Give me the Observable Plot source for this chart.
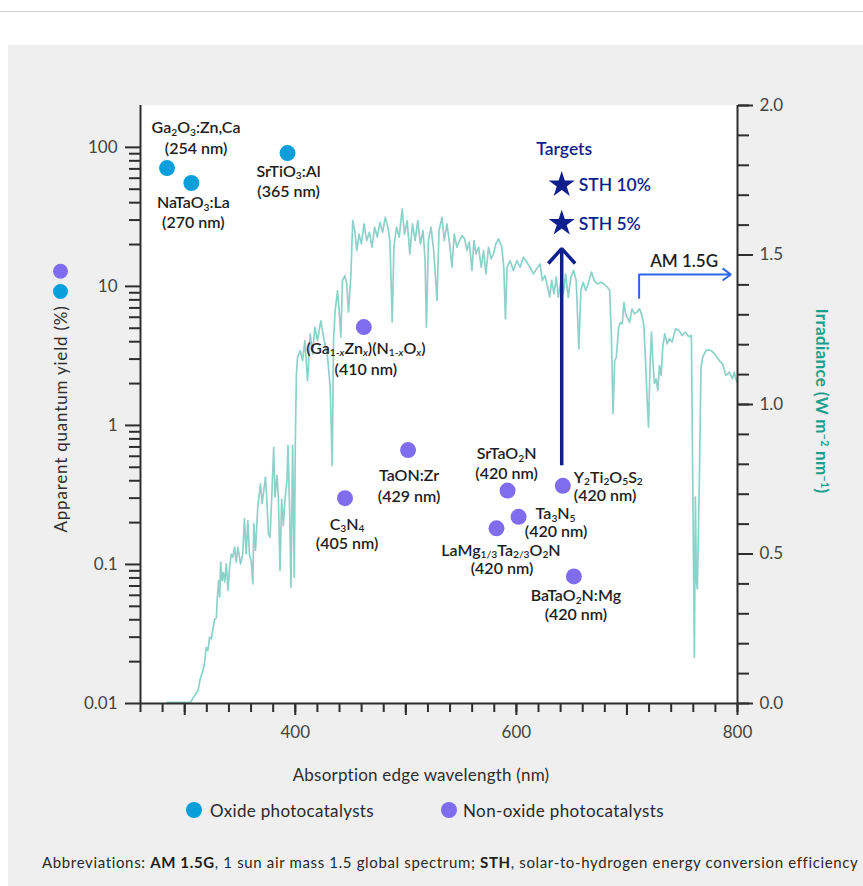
<!DOCTYPE html>
<html>
<head>
<meta charset="utf-8">
<script src="https://cdn.jsdelivr.net/npm/d3@7"></script>
<script src="https://cdn.jsdelivr.net/npm/@observablehq/plot@0.6"></script>
<style>
html,body{margin:0;padding:0;background:#fff;}
body{width:863px;height:886px;position:relative;overflow:hidden;font-family:Lato,"Open Sans",sans-serif;}
#rule{position:absolute;left:0;top:11px;width:863px;height:1px;background:#cfcfcf;}
#panel{position:absolute;left:8px;top:45px;width:855px;height:841px;background:#efefef;}
.layer{position:absolute;left:0;top:0;}
.layer svg{display:block;}
.t{position:absolute;white-space:nowrap;line-height:1;}
.t sup{font-size:0.62em;vertical-align:0.55em;line-height:0;}
.sw{position:absolute;width:16px;height:16px;border-radius:50%;}
#footer b{font-weight:700;color:#1e1e1e;}
</style>
</head>
<body>
<div id="rule"></div>
<div id="panel"></div>
<div id="irrLayer" class="layer"></div>
<div id="aqyLayer" class="layer"></div>
<div id="ytitle" class="t" style="font-size:17px;font-weight:400;color:#2e2e2e;">Apparent quantum yield (%)</div>
<div id="y2title" class="t" style="font-size:17px;font-weight:700;color:#19a08c;">Irradiance (W m<sup>−2</sup> nm<sup>−1</sup>)</div>
<div id="xtitle" class="t" style="font-size:17px;font-weight:400;color:#2e2e2e;">Absorption edge wavelength (nm)</div>
<div id="sw1" class="sw"></div>
<div id="leg1" class="t" style="font-size:17px;font-weight:400;color:#2a2a2a;"></div>
<div id="sw2" class="sw"></div>
<div id="leg2" class="t" style="font-size:17px;font-weight:400;color:#2a2a2a;"></div>
<div id="footer" class="t" style="font-size:15px;font-weight:400;color:#2a2a2a;">Abbreviations: <b>AM 1.5G</b>, 1 sun air mass 1.5 global spectrum; <b>STH</b>, solar-to-hydrogen energy conversion efficiency</div>
<script>
// ---------------- DATA ----------------
// AM 1.5G solar irradiance spectrum: [wavelength nm, irradiance W m-2 nm-1]
const amSpectrum = [
[284,0.004],[290,0.004],[296,0.004],[302,0.004],[305.4,0.005],
[309.0,0.027],[312.0,0.043],[314.1,0.083],[316.5,0.110],[318.0,0.138],[319.5,0.188],[321.0,0.177],[322.5,0.222],
[324.1,0.216],[325.6,0.250],[327.1,0.283],[328.6,0.286],[329.5,0.356],[330.7,0.411],[331.6,0.356],[332.5,0.473],
[333.7,0.411],[334.9,0.439],[336.1,0.406],[337.6,0.467],[339.1,0.378],[340.6,0.456],[342.1,0.500],[343.6,0.489],
[345.1,0.523],[346.6,0.473],[348.1,0.523],[350.5,0.467],[352.5,0.500],[354.0,0.618],[355.6,0.500],[357.1,0.612],
[358.6,0.495],[360.1,0.478],[361.6,0.400],[362.5,0.601],[364.0,0.512],[366.1,0.657],[368.5,0.735],[370.0,0.668],
[371.5,0.712],[373.0,0.757],[374.2,0.690],[375.7,0.567],[377.2,0.556],[378.7,0.690],[380.5,0.857],[381.7,0.690],
[383.5,0.763],[384.7,0.690],[386.2,0.445],[387.7,0.684],[389.2,0.595],[390.7,0.684],[392.5,0.746],[393.4,0.863],
[394.9,0.646],[396.1,0.389],[397.6,0.863],[399.1,0.422],[400.0,0.863],[401.0,1.100],
[402.1,1.158],[404.5,1.180],[406.6,1.147],[408.7,1.214],[411.1,1.080],[413.5,1.236],[415.6,1.169],[417.7,1.258],
[420.1,1.214],[423.1,1.280],[426.2,1.214],[429.2,1.158],[431.6,1.058],[433.4,0.796],[434.6,1.214],[436.1,1.314],
[438.2,1.380],[439.7,1.314],[441.2,1.225],[442.7,1.415],[444.8,1.431],[446.6,1.403],[448.1,1.309],[450.2,1.425],
[452.0,1.615],[453.8,1.582],[455.6,1.515],[457.7,1.570],[459.8,1.537],[462.2,1.604],[464.6,1.548],[467.0,1.576],
[469.4,1.526],[471.8,1.593],[474.2,1.560],[476.6,1.609],[479.0,1.576],[481.4,1.626],[483.8,1.593],[485.6,1.548],
[487.7,1.275],[489.2,1.526],[491.6,1.593],[494.0,1.560],[496.7,1.654],[498.8,1.570],[501.2,1.615],[503.6,1.504],
[506.0,1.604],[508.4,1.548],[510.8,1.615],[513.2,1.537],[515.6,1.582],[517.4,1.481],[518.6,1.258],[520.4,1.548],
[522.8,1.593],[525.2,1.515],[528.2,1.348],[530.0,1.582],[532.7,1.626],[534.8,1.548],[537.2,1.604],[539.6,1.537],
[541.7,1.459],[543.8,1.570],[546.2,1.526],[548.6,1.548],
[550.8,1.565],[553.2,1.554],[555.3,1.515],[557.4,1.543],[559.8,1.448],[561.6,1.548],[563.4,1.504],[565.8,1.526],
[568.2,1.459],[570.3,1.515],[572.4,1.437],[574.8,1.526],[577.2,1.487],[579.3,1.504],[581.4,1.537],[583.8,1.554],
[586.8,1.526],[588.6,1.459],[590.1,1.286],[591.6,1.459],[594.3,1.481],[597.3,1.448],[600.4,1.481],[603.4,1.459],
[606.4,1.493],[609.4,1.476],[612.4,1.459],[615.4,1.437],[618.4,1.454],[621.4,1.470],[623.5,1.415],[625.9,1.431],
[628.3,1.392],[630.1,1.359],[631.9,1.415],[634.0,1.370],[636.1,1.426],[637.9,1.359],[640.3,1.415],[642.4,1.370],
[644.5,1.437],[646.9,1.359],[649.3,1.426],[651.7,1.448],[654.1,1.415],[656.5,1.186],[658.3,1.381],[660.4,1.409],
[662.8,1.381],[664.9,1.403],[667.9,1.443],[670.3,1.415],[673.3,1.403],[676.3,1.409],[679.3,1.403],[682.3,1.392],
[684.4,1.381],[685.9,1.235],[687.4,0.969],[688.9,1.147],[690.4,1.158],[692.5,1.259],[694.3,1.275],[695.8,1.270],
[697.3,1.342],[698.8,1.303],[700.9,1.287],[702.4,1.275],[704.5,1.320],[706.9,1.303],[709.0,1.309],[711.4,1.320],
[713.5,1.298],[715.3,1.264],[716.8,1.147],[718.3,1.013],[719.5,0.924],[721.0,1.147],[722.2,1.242],[723.4,1.147],
[724.9,1.070],[726.4,1.086],[727.9,1.047],[729.4,1.130],[730.9,1.097],[732.4,1.192],[734.2,1.237],[736.4,1.203],
[738.5,1.220],[740.9,1.209],[743.9,1.253],[746.9,1.248],[749.9,1.231],[752.9,1.242],[755.0,1.231],[757.1,1.226],
[758.3,1.231],[761.0,0.155],[761.9,0.690],[762.8,0.411],[763.7,0.383],[765.5,0.750],[767.0,1.125],[768.5,1.158],
[771.5,1.181],[774.5,1.183],[777.5,1.176],[780.5,1.164],[783.5,1.147],[786.5,1.136],[789.5,1.097],[792.5,1.108],
[795.5,1.086],[797.0,1.108],[799.4,1.075]
];

// Photocatalysts
const catalystNames = ["Ga_{2}O_{3}:Zn,Ca","NaTaO_{3}:La","SrTiO_{3}:Al","(Ga_{1-x}Zn_{x})(N_{1-x}O_{x})","TaON:Zr","C_{3}N_{4}",
  "SrTaO_{2}N","Y_{2}Ti_{2}O_{5}S_{2}","Ta_{3}N_{5}","LaMg_{1/3}Ta_{2/3}O_{2}N","BaTaO_{2}N:Mg"];
const edgeLabels = ["(254 nm)","(270 nm)","(365 nm)","(410 nm)","(429 nm)","(405 nm)","(420 nm)","(420 nm)","(420 nm)","(420 nm)","(420 nm)"];
const catalystX = [284, 306, 393, 462, 502, 445, 592, 642, 602, 582, 652];      // position on wavelength axis (nm)
const catalystAQY = [71, 55.4, 91, 5.1, 0.665, 0.30, 0.34, 0.368, 0.22, 0.182, 0.082]; // apparent quantum yield (%)
const catalystType = ["Oxide","Oxide","Oxide","Non-oxide","Non-oxide","Non-oxide","Non-oxide","Non-oxide","Non-oxide","Non-oxide","Non-oxide"];
const typeNames = ["Oxide","Non-oxide"];
const legendLabels = ["Oxide photocatalysts","Non-oxide photocatalysts"];

// Targets
const targetLabels = ["STH 10%","STH 5%"];
const targetX = [641, 641];
const targetAQY = [53.8, 28.4];
const targetArrow = {x: 641, from: 0.518, to: 18.7};

// AM 1.5G call-out (wavelength, irradiance)
const am15Callout = {x: 711, yLow: 1.352, yHigh: 1.435, xEnd: 794, label: "AM 1.5G"};

// Axes ticks
const xMajorTicks = [300, 400, 500, 600, 700, 800];
const xLabelled = [400, 600, 800];
const xMinorTicks = d3.range(260, 801, 20);
const yRightMajor = [0, 0.5, 1.0, 1.5, 2.0];
const yRightMinor = d3.range(0, 21).map(i => i / 10);
const yLeftMajor = [0.01, 0.1, 1, 10, 100];
const yLeftLabels = ["0.01", "0.1", "1", "10", "100"];
const yLeftMinor = [0.01, 0.1, 1, 10].flatMap(b => d3.range(2, 10).map(k => +(b * k).toPrecision(3)));

// ---------------- STYLES / LAYOUT ----------------
const C = {oxide:"#0a9fdb", nonOxide:"#7f6ded", navy:"#0f1f8e", spectrum:"#8cd2c9", callout:"#2b66e6", axis:"#2e2e2e", text:"#1e1e1e"};
const labelLayout = [
  {dx:29, dy1:-40, dy2:-19.5},
  {dx:2, dy1:20, dy2:40},
  {dx:1, dy1:18.5, dy2:39},
  {dx:2, dy1:21.5, dy2:42.5},
  {dx:1, dy1:25.5, dy2:46.5},
  {dx:2, dy1:26.5, dy2:45.5},
  {dx:-1, dy1:-36.5, dy2:-16.5},
  {dx:11, dy1:-8, dy2:10, anchor:"start"},
  {dx:17, dx2:37.5, dy1:-2.5, dy2:15.5, anchor:"start", anchor2:"middle"},
  {dx:4.5, dx2:5.5, dy1:22.5, dy2:41},
  {dx:2, dy1:19.5, dy2:38.5}
];

const catalysts = catalystNames.map((name, i) => ({name, edge: edgeLabels[i], x: catalystX[i], aqy: catalystAQY[i], type: catalystType[i]}));
const targets = targetLabels.map((label, i) => ({label, x: targetX[i], aqy: targetAQY[i]}));

const W = 863, H = 760;
const common = {
  width: W, height: H, marginLeft: 140, marginRight: 126, marginTop: 105, marginBottom: 57,
  style: {background: "transparent", overflow: "visible", fontFamily: "Lato, sans-serif", color: "#454545"}
};
const xDomain = [260, 800];
const tickText = {fontSize: 17, fontWeight: 400};

// ---------- irradiance layer (linear, right axis) ----------
const irrPlot = Plot.plot({
  ...common,
  x: {domain: xDomain},
  y: {domain: [0, 2]},
  marks: [
    Plot.frame({fill: "#fff", stroke: "none"}),
    Plot.line(amSpectrum, {x: d => d[0], y: d => d[1], stroke: C.spectrum, strokeWidth: 1.7, strokeLinejoin: "round"}),
    Plot.ruleX([am15Callout], {x: "x", y1: "yLow", y2: "yHigh", stroke: C.callout, strokeWidth: 2}),
    Plot.arrow([am15Callout], {x1: "x", y1: "yHigh", x2: "xEnd", y2: "yHigh", stroke: C.callout, strokeWidth: 2, headLength: 7.7, headAngle: 72, strokeLinecap: "butt"}),
    Plot.text([am15Callout], {x: "x", y: "yHigh", text: "label", dx: 45, dy: -13, fontSize: 17, fontWeight: 600, fill: C.text}),
    Plot.axisX({ticks: xMinorTicks, tickSize: 9, tickFormat: () => "", stroke: C.axis, strokeWidth: 2, label: null}),
    Plot.axisX({ticks: xMajorTicks, tickSize: 12, tickPadding: 10, tickFormat: d => xLabelled.includes(d) ? String(d) : "", stroke: C.axis, strokeWidth: 2, label: null, ...tickText}),
    Plot.axisY({anchor: "right", ticks: yRightMinor, tickSize: 11, tickFormat: () => "", stroke: C.axis, strokeWidth: 2, label: null}),
    Plot.axisY({anchor: "right", ticks: yRightMajor, tickSize: 15, tickPadding: 7, tickFormat: d => d.toFixed(1), stroke: C.axis, strokeWidth: 2, label: null, ...tickText}),
    Plot.ruleY([0], {stroke: C.axis, strokeWidth: 2}),
    Plot.ruleX([800], {stroke: C.axis, strokeWidth: 2})
  ]
});
document.getElementById("irrLayer").appendChild(irrPlot);

// ---------- AQY layer (log, left axis) ----------
const labelStyle = {fontSize: 16, fontWeight: 600, fill: C.text, ariaLabel: "catalyst-label"};
const labelMarks = catalysts.flatMap((d, i) => {
  const L = labelLayout[i];
  return [
    Plot.text([d], {x: "x", y: "aqy", text: "name", dx: L.dx, dy: L.dy1, textAnchor: L.anchor || "middle", ...labelStyle}),
    Plot.text([d], {x: "x", y: "aqy", text: "edge", dx: L.dx2 ?? L.dx, dy: L.dy2, textAnchor: L.anchor2 || L.anchor || "middle", ...labelStyle})
  ];
});

const aqyPlot = Plot.plot({
  ...common,
  x: {domain: xDomain, axis: null},
  y: {type: "log", domain: [0.01, 200]},
  color: {domain: typeNames, range: [C.oxide, C.nonOxide]},
  marks: [
    Plot.axisY({ticks: yLeftMinor, tickSize: 11, tickFormat: () => "", stroke: C.axis, strokeWidth: 2, label: null}),
    Plot.axisY({ticks: yLeftMajor, tickSize: 15, tickPadding: 8, tickFormat: d => yLeftLabels[yLeftMajor.indexOf(d)], stroke: C.axis, strokeWidth: 2, label: null, ...tickText}),
    Plot.ruleX([260], {stroke: C.axis, strokeWidth: 2}),
    // series key beside the y-axis title
    Plot.dot(["Non-oxide"], {frameAnchor: "top-left", dx: -80, dy: 165.7, r: 7.5, fill: d => d}),
    Plot.dot(["Oxide"], {frameAnchor: "top-left", dx: -80, dy: 186, r: 7.5, fill: d => d}),
    Plot.arrow([targetArrow], {x1: "x", y1: "from", x2: "x", y2: "to", stroke: C.navy, strokeWidth: 3.5, headLength: 8.6, headAngle: 84, strokeLinecap: "butt", strokeLinejoin: "miter"}),
    ...labelMarks,
    Plot.dot(catalysts, {x: "x", y: "aqy", r: 8, fill: "type"}),
    Plot.dot(targets, {x: "x", y: "aqy", symbol: "star", r: 8.2, fill: C.navy}),
    Plot.text(targets, {x: "x", y: "aqy", text: "label", dx: 17, dy: 1, textAnchor: "start", fontSize: 17.5, fontWeight: 600, fill: C.navy}),
    Plot.text([targets[0]], {x: "x", y: "aqy", text: () => "Targets", dx: 2.5, dy: -35, fontSize: 17.5, fontWeight: 600, fill: C.navy})
  ]
});
document.getElementById("aqyLayer").appendChild(aqyPlot);

// ---------- rich text (sub/superscripts) ----------
function richify(root) {
  const ns = "http://www.w3.org/2000/svg";
  root.querySelectorAll("text").forEach(t => {
    const s = t.textContent;
    if (!/[_^]\{/.test(s)) return;
    const fs = parseFloat(getComputedStyle(t).fontSize) || 16;
    while (t.firstChild) t.removeChild(t.firstChild);
    const re = /([_^])\{([^}]*)\}/g;
    let last = 0, m, shift = 0;
    const span = (txt, dy) => {
      const e = document.createElementNS(ns, "tspan");
      if (dy) e.setAttribute("dy", dy.toFixed(2));
      e.textContent = txt; t.appendChild(e); return e;
    };
    while ((m = re.exec(s))) {
      if (m.index > last) { span(s.slice(last, m.index), -shift); shift = 0; }
      const target = m[1] === "_" ? fs * 0.16 : -fs * 0.38;
      const e = span("", target - shift); shift = target;
      e.setAttribute("font-size", (fs * 0.64).toFixed(2));
      m[2].split(/(x)/).forEach(part => {
        if (!part) return;
        const c = document.createElementNS(ns, "tspan");
        c.textContent = part;
        if (part === "x") c.setAttribute("font-style", "italic");
        e.appendChild(c);
      });
      last = re.lastIndex;
    }
    if (last < s.length) span(s.slice(last), -shift);
  });
}
richify(aqyPlot);

// calibrate label letter-spacing on "(420 nm)" (≈71 px wide in the reference)
(function calibrate() {
  const texts = [...aqyPlot.querySelectorAll('[aria-label="catalyst-label"] text')];
  const ref = texts.find(t => t.textContent === "(420 nm)");
  if (!ref) return;
  const w = ref.getBBox().width;
  const ls = Math.max(-0.5, Math.min(1.5, (71 - w) / 8));
  texts.forEach(t => t.style.letterSpacing = ls.toFixed(2) + "px");
})();

// ---------- HTML titles, legend, footer ----------
function fitWidth(el, target) {
  el.style.letterSpacing = "0px";
  const w = el.getBoundingClientRect().width;
  const n = el.textContent.length;
  const ls = Math.max(-0.6, Math.min(1.5, (target - w) / n));
  el.style.letterSpacing = ls.toFixed(3) + "px";
}
function placeCenter(id, cx, cy, rot, target) {
  const el = document.getElementById(id);
  if (target) fitWidth(el, target);
  el.style.left = cx + "px"; el.style.top = cy + "px";
  el.style.transform = "translate(-50%,-50%)" + (rot ? ` rotate(${rot}deg)` : "");
}
function placeLeft(id, x, cy, target) {
  const el = document.getElementById(id);
  if (target) fitWidth(el, target);
  el.style.left = x + "px"; el.style.top = cy + "px";
  el.style.transform = "translate(0,-50%)";
}
document.getElementById("leg1").textContent = legendLabels[0];
document.getElementById("leg2").textContent = legendLabels[1];
const sw1 = document.getElementById("sw1"), sw2 = document.getElementById("sw2");
sw1.style.background = C.oxide; sw2.style.background = C.nonOxide;
sw1.style.left = (194 - 8) + "px"; sw1.style.top = (810 - 8) + "px";
sw2.style.left = (449 - 8) + "px"; sw2.style.top = (810 - 8) + "px";

placeCenter("ytitle", 60, 418.5, -90, 227);
placeCenter("y2title", 822, 400.5, 90, 185);
placeCenter("xtitle", 421, 773.5, 0, 257);
placeLeft("leg1", 210, 810, 164);
placeLeft("leg2", 463, 810, 201);
placeLeft("footer", 42, 862, 816);
</script>
</body>
</html>
